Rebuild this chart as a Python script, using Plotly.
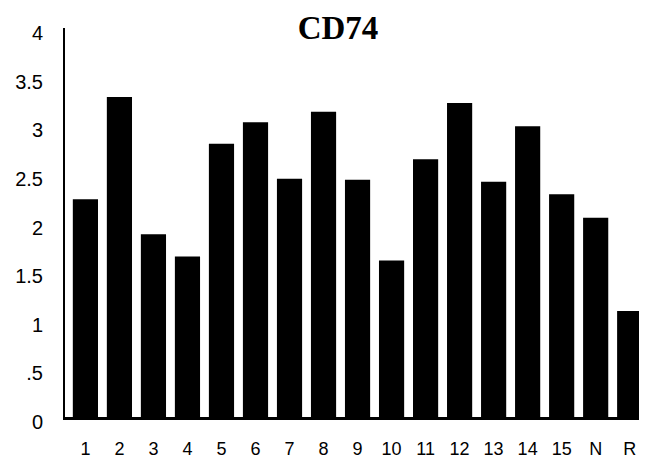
import plotly.graph_objects as go

categories = ["1", "2", "3", "4", "5", "6", "7", "8", "9", "10", "11", "12", "13", "14", "15", "N", "R"]
values = [2.24, 3.29, 1.88, 1.65, 2.81, 3.03, 2.45, 3.14, 2.44, 1.61, 2.65, 3.23, 2.42, 2.99, 2.29, 2.05, 1.09]
y_tick_vals = [0, 0.5, 1, 1.5, 2, 2.5, 3, 3.5, 4]
y_tick_text = ["0", ".5", "1", "1.5", "2", "2.5", "3", "3.5", "4"]
title_text = "CD74"

# page body has an 8px margin, so the figure is sized to fit the window
W, H = 639, 458

fig = go.Figure(go.Bar(x=categories, y=values, marker=dict(color="black", line=dict(width=0))))

fig.update_layout(
    width=W, height=H,
    margin=dict(l=57, r=2, t=20, b=49, autoexpand=False),
    paper_bgcolor="white", plot_bgcolor="white",
    bargap=0.26,
    showlegend=False,
    title=dict(text="<b>" + title_text + "</b>", x=330 / W, xanchor="center",
               y=1 - 19 / H, yanchor="middle",
               font=dict(family="Liberation Serif", size=33, color="black")),
    font=dict(family="Liberation Sans", color="black"),
)
fig.update_xaxes(
    type="category", range=[-0.6, 16.45],
    showline=True, linecolor="black", linewidth=3,
    showgrid=False, zeroline=False, ticks="",
    tickfont=dict(size=18, family="Liberation Sans", color="black"),
    ticklabelstandoff=13,
)
fig.update_yaxes(
    range=[0, 4], tickvals=y_tick_vals, ticktext=y_tick_text,
    showline=True, linecolor="black", linewidth=2,
    showgrid=False, zeroline=False, ticks="",
    tickfont=dict(size=20, family="Liberation Sans", color="black"),
    ticklabelstandoff=16, ticklabelshift=5,
)

fig.write_html("out.html")
